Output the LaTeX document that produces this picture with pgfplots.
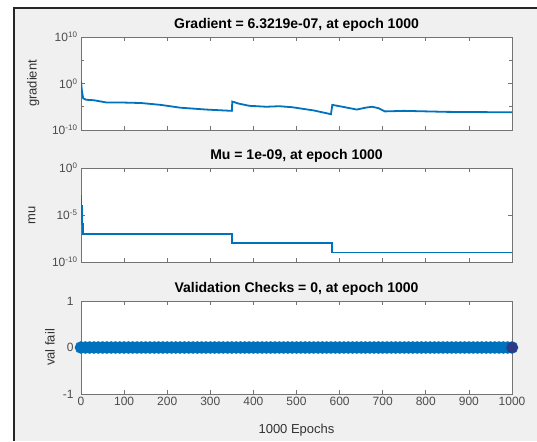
\documentclass[border=0pt]{standalone}
\usepackage{pgfplots}
\pgfplotsset{compat=1.18}
\usepackage{fontspec}
\setmainfont{Liberation Sans}
\definecolor{mblue}{HTML}{0072BD}
\definecolor{figbg}{HTML}{F0F0F0}
\definecolor{lastpt}{HTML}{2E3A87}

\pgfplotsset{
  panel/.style={
    scale only axis, width=431pt, height=93pt, anchor=south west,
    xmin=0, xmax=1000, xtick={0,100,...,1000},
    tick align=inside, xtick pos=both, ytick pos=both,
    xticklabel pos=lower, yticklabel pos=left,
    axis line style={black!55, line width=0.7pt},
    major tick length=4pt, minor tick length=3pt,
    every tick/.style={black!55, line width=0.7pt},
    tick label style={font=\fontsize{12}{12}\selectfont, text=black!70},
    label style={font=\fontsize{13}{13}\selectfont, text=black!80},
    title style={font=\fontsize{14}{14}\selectfont\bfseries, at={(axis description cs:0.5,1)}, anchor=center, yshift=6pt},
    axis background/.style={fill=white},
  }
}

\begin{document}
\begin{tikzpicture}
\useasboundingbox (0pt,0pt) rectangle (537pt,441pt);
\fill[white] (0pt,0pt) rectangle (537pt,441pt);
\fill[figbg] (14pt,0pt) rectangle (537pt,432pt);
\draw[black!85, line width=2pt] (13.5pt,0pt) -- (13.5pt,432.5pt) -- (537pt,432.5pt);

% performance gradient
\begin{axis}[panel, at={(81pt,311pt)},
  ymode=log, ymin=1e-10, ymax=1e10,
  ytick={1e-10,1,1e10}, minor ytick={1e-5,1e5},
  yticklabels={10\textsuperscript{-10},10\textsuperscript{0},10\textsuperscript{10}},
  xticklabels={},
  ylabel={gradient},
  ylabel style={at={(axis description cs:-0.111,0.5)}, anchor=center},
  title={Gradient = 6.3219e-07, at epoch 1000}]
\addplot[mblue, line width=1.8pt] coordinates {
 (0,3.2) (2,3.2e-2) (5,6.3e-4) (12,3.2e-4) (30,2.5e-4) (60,7.9e-5)
 (100,7.9e-5) (140,6.3e-5) (185,2.5e-5) (230,6.3e-6) (290,2.5e-6)
 (350,1.3e-6) (351,1.3e-4) (365,5e-5) (390,1.6e-5) (430,1e-5)
 (460,1.3e-5) (490,7.9e-6) (540,1.6e-6) (580,2.5e-7) (583,2.5e-5)
 (600,1.3e-5) (640,2.5e-6) (660,6.3e-6) (675,1e-5) (690,5e-6)
 (705,1e-6) (750,1.3e-6) (850,7.9e-7) (1000,6.3219e-7)};
\end{axis}

% mu
\begin{axis}[panel, at={(81pt,179pt)}, height=94pt,
  ymode=log, ymin=1e-10, ymax=1,
  ytick={1e-10,1e-5,1},
  yticklabels={10\textsuperscript{-10},10\textsuperscript{-5},10\textsuperscript{0}},
  xticklabels={},
  ylabel={mu},
  ylabel style={at={(axis description cs:-0.114,0.5)}, anchor=center},
  title={Mu = 1e-09, at epoch 1000}]
\addplot[mblue, line width=1.8pt, const plot mark left] coordinates {
 (0,1e-3) (1,1e-4) (2,1e-5) (3,1e-6) (4,1e-7)
 (350,1e-8) (583,1e-9) (1000,1e-9)};
\end{axis}

% validation checks
\begin{axis}[panel, at={(81pt,47pt)}, clip=false,
  ymin=-1, ymax=1, ytick={-1,0,1}, yticklabels={-1,0,1},
  yticklabel style={xshift=-4pt},
  xticklabels={0,100,200,300,400,500,600,700,800,900,1000},
  ylabel={val fail},
  ylabel style={at={(axis description cs:-0.072,0.5)}, anchor=center},
  xlabel={1000 Epochs},
  xlabel style={at={(axis description cs:0.5,-0.387)}, anchor=center},
  title={Validation Checks = 0, at epoch 1000}]
\addplot[mblue, line width=1.5pt, mark=*, mark size=5.5pt,
  mark options={fill=mblue, draw=mblue}] coordinates {
 (0,0) (10,0) (20,0) (30,0) (40,0) (50,0) (60,0) (70,0) (80,0) (90,0)
 (100,0) (110,0) (120,0) (130,0) (140,0) (150,0) (160,0) (170,0) (180,0) (190,0)
 (200,0) (210,0) (220,0) (230,0) (240,0) (250,0) (260,0) (270,0) (280,0) (290,0)
 (300,0) (310,0) (320,0) (330,0) (340,0) (350,0) (360,0) (370,0) (380,0) (390,0)
 (400,0) (410,0) (420,0) (430,0) (440,0) (450,0) (460,0) (470,0) (480,0) (490,0)
 (500,0) (510,0) (520,0) (530,0) (540,0) (550,0) (560,0) (570,0) (580,0) (590,0)
 (600,0) (610,0) (620,0) (630,0) (640,0) (650,0) (660,0) (670,0) (680,0) (690,0)
 (700,0) (710,0) (720,0) (730,0) (740,0) (750,0) (760,0) (770,0) (780,0) (790,0)
 (800,0) (810,0) (820,0) (830,0) (840,0) (850,0) (860,0) (870,0) (880,0) (890,0)
 (900,0) (910,0) (920,0) (930,0) (940,0) (950,0) (960,0) (970,0) (980,0) (990,0)
 (1000,0)};
\addplot[only marks, mark=*, mark size=5.5pt,
  mark options={fill=lastpt, draw=lastpt}] coordinates {(1000,0)};
\end{axis}
\end{tikzpicture}
\end{document}
